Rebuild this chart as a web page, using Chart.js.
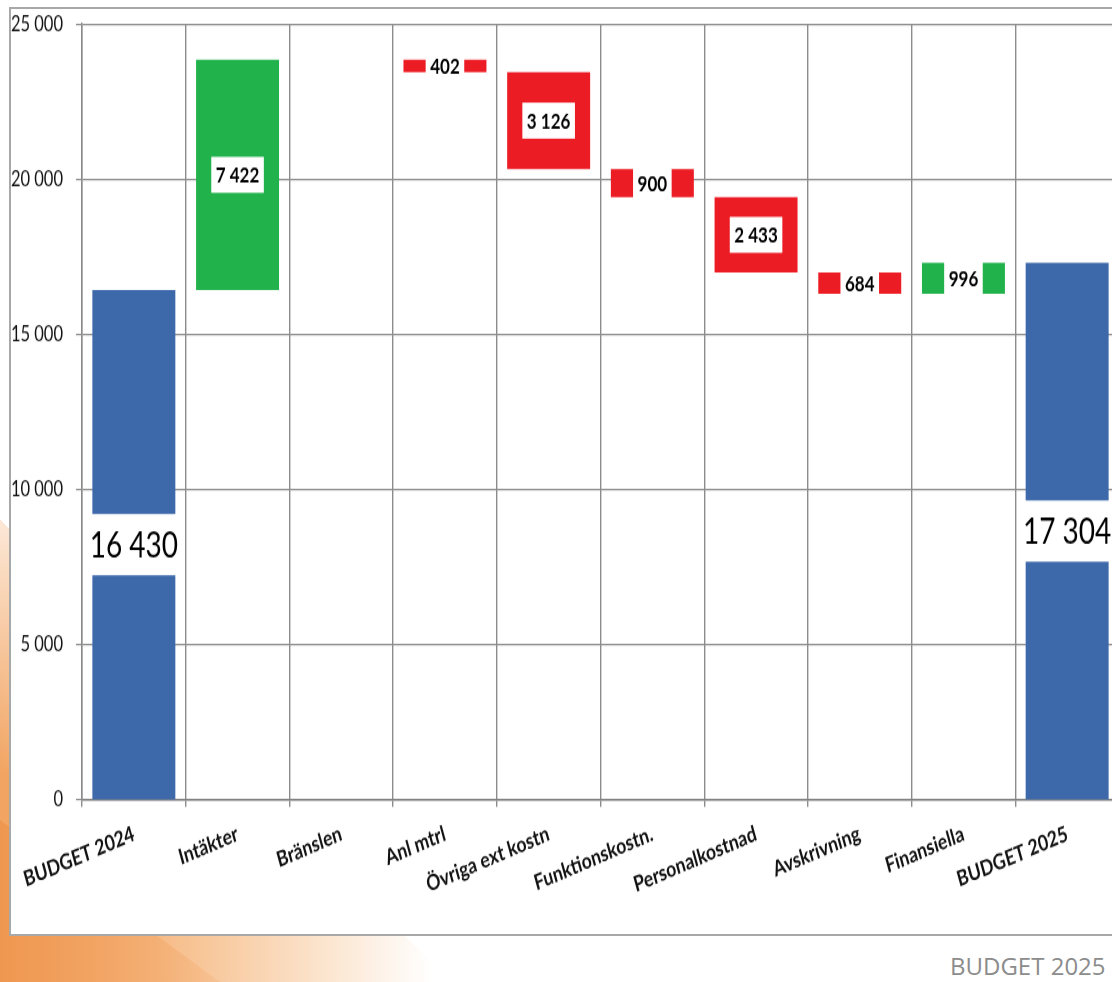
<!DOCTYPE html>
<html>
<head>
<meta charset="utf-8">
<script src="https://cdn.jsdelivr.net/npm/chart.js@4"></script>
<style>
html,body{margin:0;padding:0;width:1112px;height:982px;overflow:hidden;background:#fff;}
body{position:relative;}
#d1{position:absolute;left:0;top:520px;width:450px;height:462px;clip-path:polygon(0 0,0 100%,100% 100%);
  background:linear-gradient(to bottom,rgba(255,255,255,0.75) 0%,rgba(255,255,255,0) 55%),
             linear-gradient(to right,#f2a461 0%,#f6bb86 35%,#fbe0c6 68%,#fff 96%);}
#d2{position:absolute;left:0;top:820px;width:220px;height:162px;clip-path:polygon(0 0,0 100%,100% 100%);
  background:linear-gradient(to right,rgba(238,146,74,0.7),rgba(242,165,100,0.2));}
#frame{position:absolute;left:9px;top:7px;width:1125px;height:929px;border:2px solid #a8a8a8;border-right:none;background:#fff;box-sizing:border-box;}
#wrap{position:absolute;left:0;top:0;width:1130px;height:748px;transform:scaleY(1.25);transform-origin:0 0;}
#footer{position:absolute;left:950px;top:952px;font-family:'Open Sans',sans-serif;font-size:24px;color:#8c8c8c;white-space:nowrap;line-height:28px;}
</style>
</head>
<body>
<div id="d1"></div>
<div id="d2"></div>
<div id="frame"></div>
<div id="wrap"><canvas id="c" width="1130" height="748"></canvas></div>
<div id="footer">BUDGET 2025</div>
<script>
const categories = ['BUDGET 2024','Intäkter','Bränslen','Anl mtrl','Övriga ext kostn','Funktionskostn.','Personalkostnad','Avskrivning','Finansiella','BUDGET 2025'];
const openingBudget = 16430;
const changes = [7422, 0, -402, -3126, -900, -2433, -684, 996];
const closingBudget = 17304;
const yTicks = [0, 5000, 10000, 15000, 20000, 25000];

const BLUE = '#3d69aa', GREEN = '#21b24b', RED = '#ec1c24';
const FONT = 'Lato, "Open Sans", sans-serif';

const floating = [[0, openingBudget]];
const colors = [BLUE];
const labelVals = [openingBudget];
let running = openingBudget;
changes.forEach(c => {
  const s = running; running += c;
  floating.push([Math.min(s, running), Math.max(s, running)]);
  colors.push(c >= 0 ? GREEN : RED);
  labelVals.push(Math.abs(c));
});
floating.push([0, closingBudget]);
colors.push(BLUE);
labelVals.push(closingBudget);

const fmt = v => String(v).replace(/\B(?=(\d{3})+(?!\d))/g, ' ');

const labelPlugin = {
  id: 'wfLabels',
  afterDatasetsDraw(chart) {
    const ctx = chart.ctx;
    const meta = chart.getDatasetMeta(0);
    meta.data.forEach((bar, i) => {
      const v = labelVals[i];
      if (!v) return;
      const isTotal = i === 0 || i === categories.length - 1;
      const p = bar.getProps(['x', 'y', 'base', 'width'], true);
      const cy = (p.y + p.base) / 2;
      ctx.save();
      ctx.font = isTotal ? '28px ' + FONT : 'bold 17px ' + FONT;
      const txt = fmt(v);
      const tw = ctx.measureText(txt).width;
      let bw, bh;
      if (isTotal) { bw = Math.max(p.width + 2, tw + 6); bh = 49; }
      else { bw = tw + 9; bh = 28.8; }
      ctx.fillStyle = '#fff';
      ctx.fillRect(p.x - bw / 2, cy - bh / 2, bw, bh);
      ctx.fillStyle = '#000';
      ctx.textAlign = 'center';
      ctx.textBaseline = 'middle';
      ctx.fillText(txt, p.x, cy + 1);
      ctx.restore();
    });
  }
};

new Chart(document.getElementById('c'), {
  type: 'bar',
  data: {
    labels: categories,
    datasets: [{
      data: floating,
      backgroundColor: colors,
      borderWidth: 0,
      categoryPercentage: 0.8,
      barPercentage: 1.0
    }]
  },
  options: {
    responsive: false,
    animation: false,
    layout: { padding: { left: 0, top: 19.2, right: 11, bottom: 0 } },
    plugins: { legend: { display: false }, tooltip: { enabled: false } },
    scales: {
      x: {
        grid: { color: '#8c8c8c', lineWidth: 1.4, offset: true, tickLength: 5.6, tickColor: '#8c8c8c' },
        border: { color: '#808080', width: 1.6 },
        ticks: {
          color: '#111',
          font: { family: FONT, size: 17.5, weight: 'bold' },
          minRotation: 19, maxRotation: 19,
          padding: 11, autoSkip: false
        },
        afterFit(scale) { scale.height = 108; }
      },
      y: {
        min: 0, max: 25000,
        afterBuildTicks(scale) { scale.ticks = yTicks.map(v => ({ value: v })); },
        grid: { color: '#8c8c8c', lineWidth: 1.2, tickLength: 6, tickColor: '#8c8c8c' },
        border: { color: '#8c8c8c', width: 1.5 },
        ticks: {
          color: '#111',
          font: { family: FONT, size: 16.5 },
          padding: 13,
          callback: v => fmt(v)
        },
        afterFit(scale) { scale.width = 82; scale.paddingTop = 6; scale.paddingBottom = 6; }
      }
    }
  },
  plugins: [labelPlugin]
});
</script>
</body>
</html>
